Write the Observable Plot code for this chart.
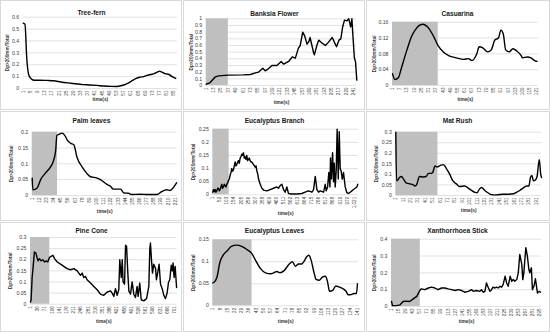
<!DOCTYPE html>
<html><head><meta charset="utf-8">
<script src="https://cdn.jsdelivr.net/npm/d3@7"></script>
<script src="https://cdn.jsdelivr.net/npm/@observablehq/plot@0.6"></script>
<style>
body{margin:0;background:#fff;}
#wrap{position:relative;width:550px;height:333px;overflow:hidden;font-family:"Liberation Sans",Arial,sans-serif;background:#fff;}
.cell{position:absolute;box-sizing:border-box;border:1px solid #d9d9d9;}
.ttl{position:absolute;text-align:center;font-weight:bold;font-size:6.6px;line-height:8px;height:8px;color:#1a1a1a;white-space:nowrap;}
.plot{position:absolute;}
</style></head><body><div id="wrap"></div>
<script>
// ---- data ----
const titles = ["Tree-fern","Banksia Flower","Casuarina","Palm leaves","Eucalyptus Branch","Mat Rush","Pine Cone","Eucalyptus Leaves","Xanthorrhoea Stick"];
const yAxisLabel = "Dp>200mm/Total";
const xAxisLabel = "time(s)";

const treeFernTime = [1,2,3,4,5,6,7,10,14,18,22,26,30,34,38,42,46,50,53,56,58,60,62,64,66,68,70,72,74,76,77,78,80,82,84,86];
const treeFernValue = [0.55,0.54,0.25,0.12,0.09,0.075,0.07,0.07,0.068,0.065,0.055,0.047,0.04,0.033,0.03,0.026,0.021,0.018,0.017,0.025,0.035,0.05,0.068,0.085,0.095,0.1,0.11,0.118,0.125,0.14,0.146,0.14,0.125,0.12,0.1,0.085];

const banksiaTime = [1,7,16,21,37,61,73,81,86,93,97,102,108,116,123,127,135,141,146,151,154,158,161,165,168,170,173,176,177,181,184,189,195,200,206,208,213,217,220,223,226,230,233,236,238,240,242,244,246];
const banksiaValue = [0.02,0.04,0.13,0.145,0.155,0.16,0.165,0.19,0.2,0.26,0.22,0.25,0.3,0.3,0.36,0.32,0.36,0.43,0.41,0.56,0.6,0.8,0.75,0.62,0.66,0.72,0.6,0.48,0.46,0.6,0.68,0.64,0.6,0.65,0.72,0.68,0.58,0.68,0.7,0.88,0.98,0.97,1.0,0.88,1.0,0.7,0.42,0.35,0.08];

const casuarinaTime = [1,3,6,8,13,17,21,24,26,31,35,39,43,48,54,60,64,67,71,73,76,80,83,86,89,91,93,95,98,101,104,108,109,113,116,119,121];
const casuarinaValue = [0.03,0.015,0.02,0.04,0.09,0.125,0.145,0.153,0.155,0.145,0.125,0.1,0.085,0.075,0.07,0.066,0.068,0.063,0.08,0.098,0.095,0.085,0.09,0.115,0.12,0.14,0.13,0.09,0.085,0.093,0.088,0.075,0.07,0.072,0.07,0.063,0.061];

const palmTime = [1,2,6,9,14,21,29,33,37,39,42,47,51,55,60,65,70,78,85,90,101,106,116,121,126,137,142,149,154,167,177,193,200,208,213,218,223];
const palmValue = [0.055,0.018,0.02,0.025,0.05,0.07,0.09,0.105,0.14,0.19,0.193,0.197,0.19,0.175,0.165,0.16,0.12,0.09,0.07,0.06,0.055,0.05,0.035,0.03,0.02,0.02,0.008,0.007,0.003,0.004,0.003,0.003,0.012,0.018,0.016,0.025,0.04];

const eucBranchTime = [1,6,11,18,24,30,36,42,48,54,60,66,72,78,84,90,96,102,108,114,120,126,132,138,144,150,156,162,168,174,180,186,192,198,204,210,216,222,228,234,240,246,252,258,264,270,276,283,289,295,301,307,313,319,325,331,343,355,367,391,415,439,463,475,487,499,511,523,535,547,571,607,643,667,691,716,728,740,752,764,776,800,812,819,829,838,846,850,857,865,872,877,884,891,898,906,913,920,927,935,944,956,968,980,992,1004,1016,1028,1040,1047];
const eucBranchValue = [0.01,0.02,0.012,0.02,0.01,0.015,0.025,0.025,0.015,0.02,0.03,0.04,0.025,0.03,0.04,0.035,0.03,0.04,0.045,0.055,0.06,0.075,0.085,0.1,0.09,0.095,0.11,0.125,0.11,0.115,0.125,0.13,0.12,0.14,0.145,0.155,0.15,0.16,0.14,0.145,0.135,0.15,0.13,0.135,0.14,0.13,0.125,0.125,0.12,0.115,0.11,0.105,0.11,0.09,0.08,0.06,0.04,0.025,0.018,0.015,0.02,0.025,0.03,0.025,0.035,0.04,0.02,0.01,0.03,0.005,0.003,0.003,0.005,0.01,0.015,0.01,0.02,0.07,0.02,0.01,0.015,0.01,0.04,0.015,0.03,0.085,0.03,0.14,0.06,0.16,0.05,0.12,0.03,0.09,0.25,0.06,0.24,0.1,0.09,0.06,0.085,0.03,0.008,0.005,0.01,0.015,0.02,0.025,0.03,0.04];

const matRushTime = [1,2,4,6,9,11,15,20,24,27,29,33,38,42,45,49,51,54,57,60,63,66,69,74,78,83,87,94,99,103,108,111,114,117,121,126,130,137,146,153,160,164,169,173,178,181,183,185,187,190,192,195,197,198];
const matRushValue = [0.3,0.07,0.075,0.085,0.09,0.08,0.06,0.055,0.052,0.045,0.05,0.09,0.088,0.09,0.105,0.105,0.11,0.14,0.135,0.14,0.145,0.145,0.13,0.1,0.07,0.055,0.043,0.045,0.035,0.025,0.015,0.013,0.03,0.038,0.025,0.012,0.004,0.003,0.006,0.006,0.008,0.015,0.025,0.035,0.045,0.045,0.085,0.095,0.07,0.075,0.09,0.17,0.1,0.085];

const pineTime = [1,4,9,14,20,27,33,38,45,53,61,69,77,85,93,101,110,118,131,147,163,179,195,212,228,244,252,260,268,276,293,309,325,341,357,374,390,398,406,414,422,430,435,442,447,451,458,463,468,474,479,487,495,503,511,519,524,532,539,552,565,576,581,584,589,594,600,609,613,620,626,633,641,649,657,665,672,678,685,690,694,699,704,711];
const pineValue = [0.01,0.02,0.12,0.17,0.235,0.23,0.21,0.195,0.205,0.195,0.2,0.19,0.195,0.19,0.21,0.215,0.22,0.205,0.19,0.18,0.17,0.16,0.155,0.16,0.15,0.13,0.14,0.12,0.125,0.11,0.095,0.08,0.065,0.045,0.04,0.055,0.06,0.05,0.035,0.07,0.04,0.065,0.2,0.12,0.2,0.1,0.09,0.265,0.26,0.14,0.06,0.045,0.1,0.045,0.03,0.08,0.035,0.095,0.02,0.015,0.025,0.08,0.25,0.275,0.2,0.14,0.18,0.16,0.11,0.145,0.18,0.09,0.07,0.04,0.025,0.05,0.1,0.11,0.175,0.15,0.185,0.12,0.17,0.075];

const eucLeavesTime = [1,2,5,8,11,15,19,24,29,34,39,42,47,52,57,60,63,66,70,75,78,81,84,87,89,92,94,96,99,101,104,107,110,112,114,117,120,123,126,130,132,134,138,140,141];
const eucLeavesValue = [0.052,0.053,0.065,0.1,0.115,0.125,0.135,0.138,0.135,0.128,0.118,0.105,0.085,0.075,0.073,0.075,0.078,0.075,0.08,0.095,0.1,0.09,0.095,0.095,0.1,0.112,0.115,0.105,0.075,0.06,0.058,0.065,0.067,0.055,0.033,0.035,0.045,0.043,0.04,0.033,0.025,0.025,0.028,0.028,0.05];

const xanthTime = [1,3,11,18,24,31,37,44,51,57,60,67,74,80,87,93,100,107,113,120,127,133,140,146,153,160,163,169,176,179,183,186,189,193,196,199,202,206,209,212,216,219,222,226,229,232,236,239,242,245,249,252,255,259,261,263,267,270,273,275,278,280,283,286,290,293,296];
const xanthValue = [0.03,0.005,0.005,0.01,0.03,0.032,0.03,0.045,0.06,0.095,0.105,0.1,0.11,0.115,0.11,0.1,0.11,0.11,0.105,0.1,0.095,0.1,0.095,0.085,0.09,0.1,0.09,0.095,0.09,0.1,0.085,0.09,0.14,0.11,0.09,0.1,0.115,0.11,0.115,0.11,0.12,0.115,0.13,0.18,0.14,0.12,0.18,0.15,0.16,0.15,0.16,0.2,0.31,0.25,0.16,0.2,0.35,0.3,0.22,0.2,0.23,0.1,0.12,0.165,0.08,0.09,0.085];

// tick labels
const treeFernXTicks = [1,5,9,13,17,21,25,29,33,37,41,45,49,53,57,61,65,69,73,77,81,85];
const banksiaXTicks = [1,13,25,37,49,61,73,85,97,109,121,133,145,157,169,181,193,205,217,229,241];
const casuarinaXTicks = [1,7,13,19,25,31,37,43,49,55,61,67,73,79,85,91,97,103,109,115,121];
const palmXTicks = [1,12,23,34,45,56,67,78,89,100,111,122,133,144,155,166,177,188,199,210,221];
const eucBranchXTicks = [1,52,103,154,205,256,307,358,409,460,511,562,613,664,715,766,817,868,919,970,1021];
const matRushXTicks = [1,11,21,31,41,51,61,71,81,91,101,111,121,131,141,151,161,171,181,191];
const pineXTicks = [1,36,71,106,141,176,211,246,281,316,351,386,421,456,491,526,561,596,631,666,701];
const eucLeavesXTicks = [1,8,15,22,29,36,43,50,57,64,71,78,85,92,99,106,113,120,127,134,141];
const xanthXTicks = [1,15,29,43,57,71,85,99,113,127,141,155,169,183,197,211,225,239,253,267,281,295];

const treeFernYTicks = [0,0.1,0.2,0.3,0.4,0.5,0.6];
const banksiaYTicks = [0,0.1,0.2,0.3,0.4,0.5,0.6,0.7,0.8,0.9,1];
const casuarinaYTicks = [0,0.04,0.08,0.12,0.16];
const palmYTicks = [0,0.05,0.1,0.15,0.2];
const eucBranchYTicks = [0,0.05,0.1,0.15,0.2,0.25];
const matRushYTicks = [0,0.05,0.1,0.15,0.2,0.25,0.3];
const pineYTicks = [0,0.05,0.1,0.15,0.2,0.25,0.3];
const eucLeavesYTicks = [0,0.05,0.1,0.15];
const xanthYTicks = [0,0.1,0.2,0.3,0.4];

// end of shaded (grey) interval, in time units; null = none
const shadeEnd = [null,37,39,40,119,58,95,39,58];

// ---- layout (pixels inside each 183x111 cell) ----
const layout = [
 {left:22.7,right:177,xEnd:87,top:16.7,bottom:88,titleY:12.7,xlabY:99,ylabX:7.5},
 {left:22.7,right:173.3,xEnd:246,top:18.3,bottom:85,titleY:14,xlabY:101.7,ylabX:8},
 {left:26,right:171.7,xEnd:122,top:21.7,bottom:85,titleY:14,xlabY:99,ylabX:8.5},
 {left:31.7,right:176.7,xEnd:224,top:20.7,bottom:84,titleY:10,xlabY:100,ylabX:11.5},
 {left:29.3,right:175,xEnd:1052,top:17.7,bottom:83.3,titleY:10,xlabY:101.7,ylabX:10},
 {left:29.3,right:175,xEnd:198,top:20.7,bottom:84,titleY:10,xlabY:99.3,ylabX:10},
 {left:30,right:176.7,xEnd:714,top:15,bottom:81.7,titleY:9.3,xlabY:99,ylabX:10},
 {left:29.3,right:175,xEnd:142,top:17.3,bottom:83.3,titleY:9.3,xlabY:99,ylabX:10},
 {left:25,right:175,xEnd:298,top:16.7,bottom:84,titleY:9.3,xlabY:99,ylabX:8.3}
];
const smooth = [true,false,true,true,false,true,false,true,false];

const series = [
 [treeFernTime,treeFernValue,treeFernXTicks,treeFernYTicks],
 [banksiaTime,banksiaValue,banksiaXTicks,banksiaYTicks],
 [casuarinaTime,casuarinaValue,casuarinaXTicks,casuarinaYTicks],
 [palmTime,palmValue,palmXTicks,palmYTicks],
 [eucBranchTime,eucBranchValue,eucBranchXTicks,eucBranchYTicks],
 [matRushTime,matRushValue,matRushXTicks,matRushYTicks],
 [pineTime,pineValue,pineXTicks,pineYTicks],
 [eucLeavesTime,eucLeavesValue,eucLeavesXTicks,eucLeavesYTicks],
 [xanthTime,xanthValue,xanthXTicks,xanthYTicks]
];

const wrap = document.getElementById("wrap");
const W = 183, H = 111;
const fmt = d => String(+(+d).toFixed(3));

series.forEach(([ts, vs, xt, yt], i) => {
  const col = i % 3, row = Math.floor(i / 3);
  const L = layout[i];
  const ox = col * 183, oy = row * 111;
  const yMax = yt[yt.length - 1];
  const data = ts.map((t, k) => ({t, v: vs[k]}));

  const cell = document.createElement("div");
  cell.className = "cell";
  Object.assign(cell.style, {left: ox + "px", top: oy + "px", width: (col === 2 ? 184 : 182) + "px", height: "110px"});
  wrap.appendChild(cell);

  const marks = [Plot.ruleY(yt, {stroke: "#d9d9d9", strokeWidth: 0.8})];
  if (shadeEnd[i] != null) {
    marks.push(Plot.rect([{a: 1, b: shadeEnd[i], c: 0, d: yMax}], {x1: d => d.a, x2: d => d.b, y1: d => d.c, y2: d => d.d, fill: "#bfbfbf"}));
  }
  marks.push(
    Plot.line(data, {x: "t", y: "v", stroke: "#000", strokeWidth: 1.4, curve: smooth[i] ? "monotone-x" : "linear"}),
    Plot.axisY({ticks: yt, tickSize: 0, tickPadding: 4, tickFormat: fmt, fontSize: 5.2, label: null}),
    Plot.axisX({ticks: xt, tickSize: 0, tickPadding: 2, tickRotate: -90, fontSize: 4.6, label: null}),
    Plot.text([yAxisLabel], {text: d => d, frameAnchor: "left", dx: L.ylabX - L.left, rotate: -90, textAnchor: "middle", fontSize: 4.6, fontWeight: "bold", fill: "#333"}),
    Plot.text([xAxisLabel], {text: d => d, frameAnchor: "bottom", dy: L.xlabY - L.bottom, lineAnchor: "middle", textAnchor: "middle", fontSize: 4.8, fontWeight: "bold", fill: "#333"})
  );

  const svg = Plot.plot({
    width: W, height: H,
    marginLeft: L.left, marginRight: W - L.right, marginTop: L.top, marginBottom: H - L.bottom,
    x: {domain: [1, L.xEnd]},
    y: {domain: [0, yMax]},
    style: {background: "transparent", color: "#404040", fontFamily: "'Liberation Sans', Arial, sans-serif", overflow: "visible"},
    marks
  });
  svg.classList.add("plot");
  svg.style.left = ox + "px";
  svg.style.top = oy + "px";
  wrap.appendChild(svg);

  const t = document.createElement("div");
  t.className = "ttl";
  t.textContent = titles[i];
  Object.assign(t.style, {left: ox + "px", width: W + "px", top: (oy + L.titleY - 4) + "px"});
  wrap.appendChild(t);
});
</script>
</body></html>
